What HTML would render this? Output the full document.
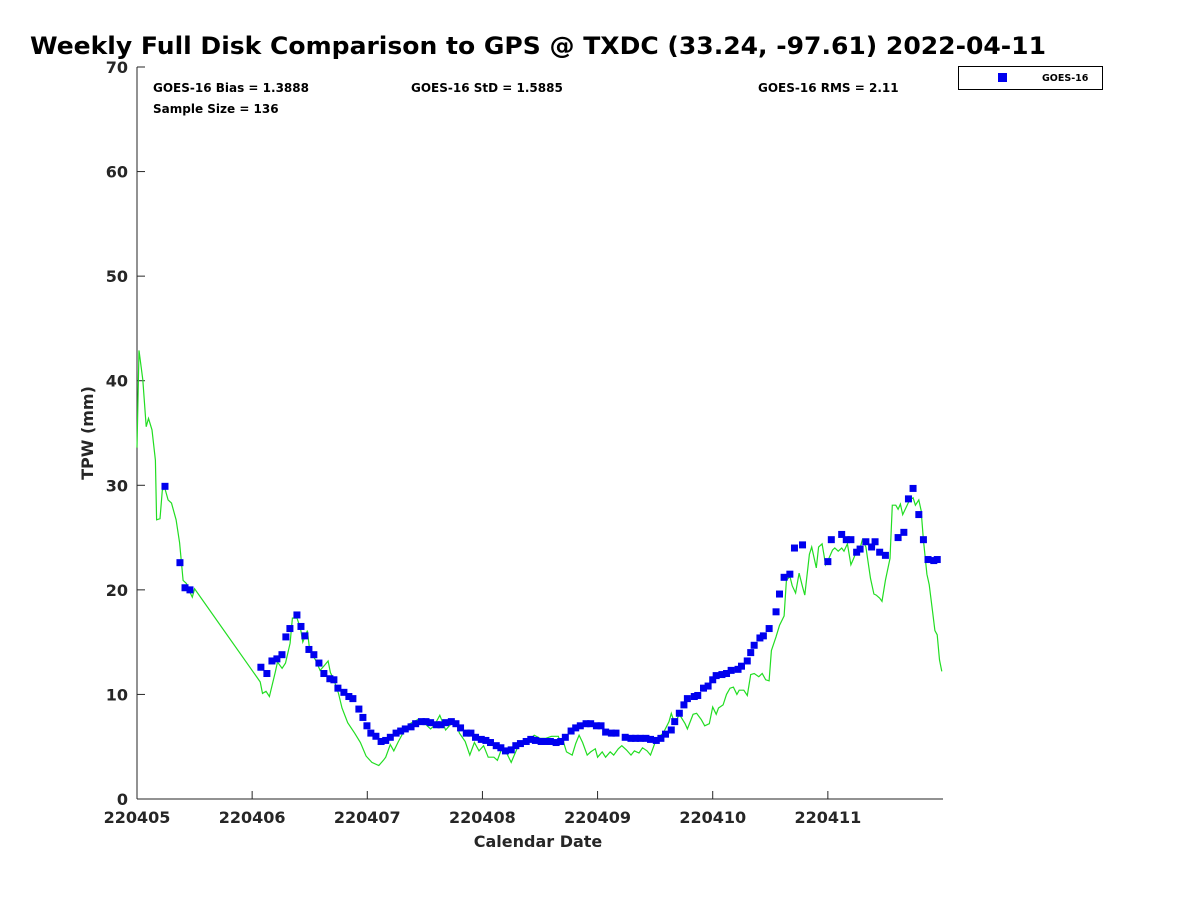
<!DOCTYPE html>
<html><head><meta charset="utf-8"><style>
body{margin:0;background:#fff;}
svg{display:block;font-family:"DejaVu Sans","Liberation Sans",sans-serif;}
</style></head><body>
<svg id="chart" width="1200" height="900">
<text x="30" y="54" font-size="24" font-weight="bold" textLength="1016" lengthAdjust="spacingAndGlyphs">Weekly Full Disk Comparison to GPS @ TXDC (33.24, -97.61) 2022-04-11</text>
<g id="axes"></g>
<g id="marks"></g>
<text x="153" y="92" font-size="12" font-weight="bold">GOES-16 Bias = 1.3888</text>
<text x="153" y="113" font-size="12" font-weight="bold">Sample Size = 136</text>
<text x="411" y="92" font-size="12" font-weight="bold">GOES-16 StD = 1.5885</text>
<text x="758" y="92" font-size="12" font-weight="bold">GOES-16 RMS = 2.11</text>
<g>
<rect x="958.5" y="66.5" width="144" height="23" fill="#fff" stroke="#000" stroke-width="1"/>
<rect x="998" y="73" width="9" height="9" fill="#0000ee"/>
<text x="1042" y="81" font-size="9.5" font-weight="bold">GOES-16</text>
</g>
<text x="538" y="847" font-size="16" font-weight="bold" text-anchor="middle" fill="#262626">Calendar Date</text>
<text transform="translate(93,433) rotate(-90)" font-size="16" font-weight="bold" text-anchor="middle" fill="#262626">TPW (mm)</text>
</svg>
<script>
const xTickLabels=["220405","220406","220407","220408","220409","220410","220411"];
const yTicks=[0,10,20,30,40,50,60,70];
const goesX=[0.243,0.373,0.417,0.46,1.076,1.128,1.172,1.215,1.259,1.293,1.328,1.389,1.424,1.458,1.493,1.536,1.58,1.623,1.675,1.71,1.745,1.797,1.84,1.875,1.927,1.962,1.997,2.031,2.075,2.12,2.16,2.2,2.25,2.29,2.33,2.38,2.42,2.47,2.51,2.55,2.6,2.64,2.68,2.73,2.77,2.81,2.86,2.9,2.94,2.99,3.03,3.07,3.12,3.16,3.2,3.25,3.29,3.33,3.38,3.42,3.46,3.51,3.55,3.59,3.64,3.68,3.72,3.77,3.81,3.85,3.9,3.94,3.99,4.03,4.07,4.12,4.16,4.24,4.29,4.33,4.37,4.42,4.46,4.51,4.55,4.59,4.64,4.67,4.71,4.75,4.78,4.84,4.87,4.92,4.96,5.0,5.03,5.08,5.12,5.16,5.22,5.25,5.3,5.33,5.36,5.41,5.44,5.49,5.55,5.58,5.62,5.67,5.71,5.78,6.0,6.03,6.12,6.16,6.2,6.25,6.28,6.33,6.38,6.41,6.45,6.5,6.61,6.66,6.7,6.74,6.79,6.83,6.87,6.92,6.95];
const goesY=[29.9,22.6,20.2,20.0,12.6,12.0,13.2,13.4,13.8,15.5,16.3,17.6,16.5,15.6,14.3,13.8,13.0,12.0,11.5,11.4,10.6,10.2,9.8,9.6,8.6,7.8,7.0,6.3,6.0,5.5,5.6,5.9,6.3,6.5,6.7,6.9,7.2,7.4,7.4,7.3,7.1,7.1,7.3,7.4,7.2,6.8,6.3,6.3,5.9,5.7,5.6,5.4,5.1,4.9,4.6,4.7,5.1,5.3,5.5,5.7,5.6,5.5,5.5,5.5,5.4,5.5,5.9,6.5,6.8,7.0,7.2,7.2,7.0,7.0,6.4,6.3,6.3,5.9,5.8,5.8,5.8,5.8,5.7,5.6,5.8,6.2,6.6,7.4,8.2,9.0,9.6,9.8,9.9,10.6,10.8,11.4,11.8,11.9,12.0,12.3,12.4,12.7,13.2,14.0,14.7,15.4,15.6,16.3,17.9,19.6,21.2,21.5,24.0,24.3,22.7,24.8,25.3,24.8,24.8,23.6,23.9,24.6,24.1,24.6,23.6,23.3,25.0,25.5,28.7,29.7,27.2,24.8,22.9,22.8,22.9];
const gpsX=[0,0.017,0.05,0.08,0.1,0.13,0.16,0.17,0.2,0.22,0.24,0.27,0.3,0.34,0.37,0.4,0.43,0.45,0.48,0.5,1.07,1.09,1.12,1.15,1.2,1.22,1.26,1.29,1.33,1.35,1.39,1.42,1.44,1.48,1.5,1.55,1.59,1.63,1.66,1.68,1.71,1.75,1.78,1.83,1.89,1.94,1.99,2.04,2.1,2.14,2.16,2.2,2.23,2.27,2.32,2.37,2.44,2.49,2.55,2.58,2.63,2.68,2.72,2.77,2.8,2.85,2.89,2.93,2.97,3.01,3.05,3.1,3.13,3.17,3.21,3.25,3.3,3.33,3.38,3.41,3.45,3.5,3.55,3.6,3.66,3.67,3.7,3.73,3.78,3.81,3.84,3.87,3.91,3.94,3.98,4.0,4.04,4.07,4.11,4.14,4.18,4.21,4.25,4.29,4.32,4.36,4.39,4.43,4.46,4.5,4.54,4.57,4.62,4.64,4.67,4.71,4.76,4.78,4.83,4.86,4.9,4.93,4.97,5.0,5.03,5.05,5.09,5.12,5.15,5.18,5.21,5.23,5.27,5.3,5.33,5.36,5.4,5.43,5.46,5.49,5.51,5.55,5.58,5.62,5.64,5.67,5.69,5.72,5.75,5.78,5.8,5.84,5.86,5.9,5.92,5.95,5.98,6.0,6.04,6.06,6.09,6.12,6.14,6.17,6.2,6.22,6.25,6.28,6.3,6.33,6.37,6.4,6.42,6.45,6.47,6.5,6.54,6.56,6.59,6.61,6.63,6.65,6.68,6.71,6.74,6.76,6.79,6.81,6.83,6.86,6.88,6.91,6.93,6.95,6.97,6.99];
const gpsY=[33.6,42.9,40.1,35.6,36.4,35.3,32.4,26.7,26.8,29.5,29.8,28.6,28.3,26.7,24.5,20.9,20.6,20.0,19.3,20.1,11.2,10.1,10.3,9.8,12.1,13.1,12.5,13.0,14.9,17.3,17.3,16.3,15.0,16.1,14.2,13.3,12.3,12.8,13.2,12.1,11.4,10.1,8.7,7.3,6.3,5.4,4.1,3.5,3.2,3.7,4.0,5.2,4.6,5.5,6.5,7.2,7.6,7.3,6.7,7.0,8.0,6.6,7.1,7.4,6.3,5.5,4.2,5.4,4.6,5.1,4.0,4.0,3.7,4.9,4.4,3.5,4.8,5.2,5.3,5.7,6.1,5.8,5.8,6.0,6.0,5.6,5.6,4.5,4.2,5.3,6.1,5.4,4.2,4.5,4.8,4.0,4.5,4.0,4.5,4.2,4.8,5.1,4.7,4.2,4.6,4.4,4.9,4.6,4.2,5.4,6.0,6.3,7.4,8.2,7.2,8.1,7.2,6.7,8.1,8.2,7.6,7.0,7.2,8.8,8.1,8.7,9.0,10.0,10.6,10.7,10.0,10.4,10.4,9.9,11.9,12.0,11.7,12.0,11.4,11.3,14.2,15.5,16.6,17.5,20.9,21.3,20.4,19.7,21.6,20.3,19.5,23.4,24.1,22.1,24.1,24.4,22.4,22.8,23.8,24.0,23.7,24.0,23.7,24.4,22.4,22.9,23.7,24.0,24.8,24.1,21.1,19.6,19.5,19.2,18.9,20.9,23.0,28.1,28.1,27.7,28.2,27.2,27.9,28.6,28.8,28.1,28.6,27.6,24.8,21.5,20.5,17.9,16.1,15.7,13.3,12.2];

const NS="http://www.w3.org/2000/svg";
const X0=137,X1=943,Y0=799,Y1=67;
const xs=d=>X0+(X1-X0)*d/7;
const ys=v=>Y0-(Y0-Y1)*v/70;
function mk(tag,attrs,parent){const e=document.createElementNS(NS,tag);for(const k in attrs)e.setAttribute(k,attrs[k]);parent.appendChild(e);return e;}
const axes=document.getElementById('axes'),marks=document.getElementById('marks');
let a=mk('line',{x1:X0,y1:Y1,x2:X0,y2:Y0,stroke:'#262626','stroke-width':1},axes);


a=mk('line',{x1:X0,y1:Y0,x2:X1,y2:Y0,stroke:'#262626','stroke-width':1},axes);


yTicks.forEach(v=>{
  const t=mk('line',{x1:X0,y1:ys(v),x2:X0+8,y2:ys(v),stroke:'#262626'},axes);
  
  
  const l=mk('text',{x:X0-9,y:ys(v)+6,'font-size':16,'font-weight':'bold','text-anchor':'end',fill:'#262626'},axes);
  l.textContent=v;
  
  
});
xTickLabels.forEach((s,i)=>{
  const t=mk('line',{x1:xs(i),y1:Y0,x2:xs(i),y2:Y0-8,stroke:'#262626'},axes);
  
  
  const l=mk('text',{x:xs(i),y:Y0+24,'font-size':16,'font-weight':'bold','text-anchor':'middle',fill:'#262626'},axes);
  l.textContent=s;
  
  
});
const pts=gpsX.map((d,i)=>xs(d).toFixed(1)+','+ys(gpsY[i]).toFixed(1)).join(' ');
const pl=mk('polyline',{points:pts,fill:'none',stroke:'#22dd22','stroke-width':1.2},marks);


goesX.forEach((d,i)=>{
  const r=mk('rect',{x:xs(d)-3.5,y:ys(goesY[i])-3.5,width:7,height:7,fill:'#0000ee'},marks);
  
  
});
</script>
</body></html>
